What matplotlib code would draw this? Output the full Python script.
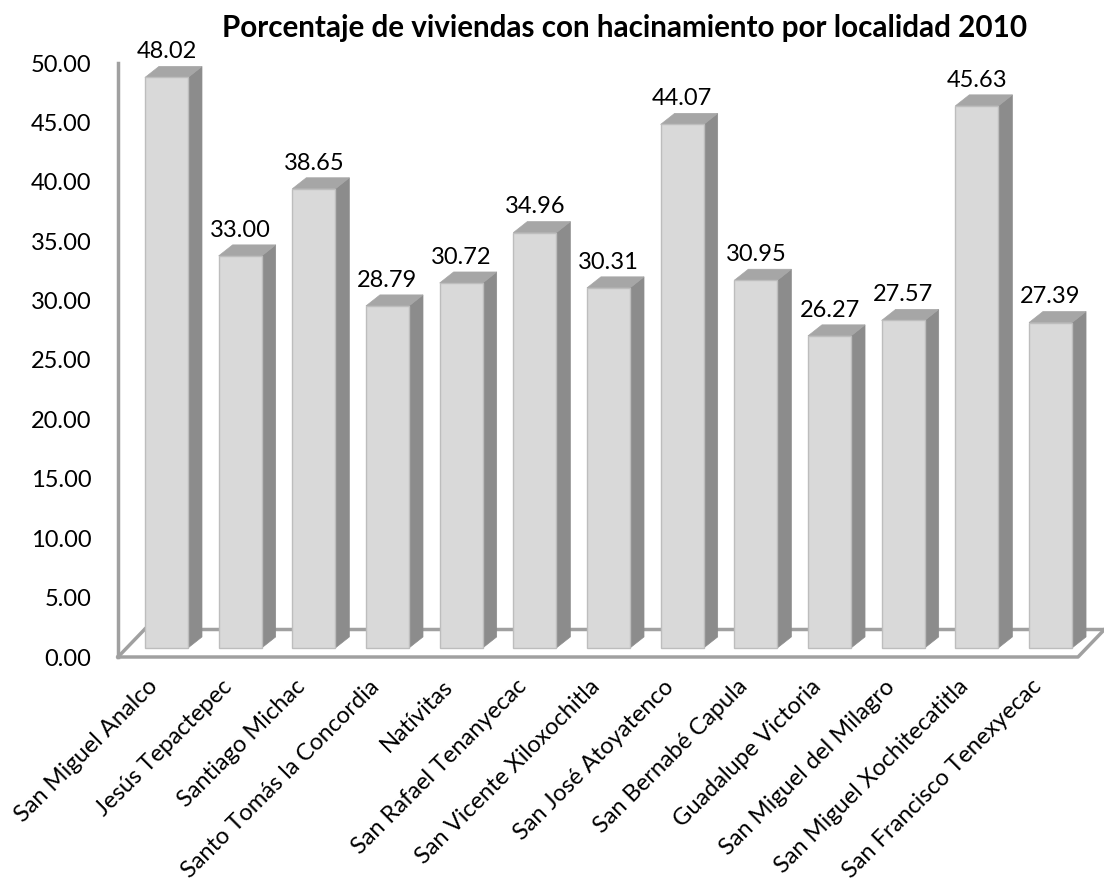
import matplotlib
matplotlib.use("Agg")
import matplotlib.pyplot as plt
from matplotlib.patches import Polygon
from matplotlib.transforms import ScaledTranslation
import numpy as np

# data
categories = ["San Miguel Analco", "Jesús Tepactepec", "Santiago Michac",
              "Santo Tomás la Concordia", "Natívitas", "San Rafael Tenanyecac",
              "San Vicente Xiloxochitla", "San José Atoyatenco", "San Bernabé Capula",
              "Guadalupe Victoria", "San Miguel del Milagro",
              "San Miguel Xochitecatitla", "San Francisco Tenexyecac"]
values = [48.02, 33.00, 38.65, 28.79, 30.72, 34.96, 30.31, 44.07, 30.95,
          26.27, 27.57, 45.63, 27.39]
yticks = [0, 5, 10, 15, 20, 25, 30, 35, 40, 45, 50]
title = "Porcentaje de viviendas con hacinamiento por localidad 2010"

plt.rcParams['font.family'] = ['Lato', 'DejaVu Sans']

W, H = 1104, 886
fig = plt.figure(figsize=(W / 100, H / 100), dpi=100)
# axes placed so that the floor front edge is the x axis
ax = fig.add_axes([118 / W, (H - 657) / H, (1078 - 118) / W, (657 - 63) / H])
xl, xr = -0.658, 12.373
ax.set_xlim(xl, xr)
ax.set_ylim(0, 50)
for s in ax.spines.values():
    s.set_visible(False)

# pseudo-3d geometry (data units)
width = 0.584
base = 0.76
dx, dy = 0.19, 0.93         # bar depth
fdx, fdy = 0.366, 2.36      # floor depth
gray = '#a0a0a0'

# floor and wall
ax.plot([xl + fdx, xr + fdx], [fdy, fdy], color=gray, lw=2.5, zorder=1, clip_on=False)
ax.plot([xl, xl + fdx], [0, fdy], color=gray, lw=2.5, zorder=1, clip_on=False)
ax.plot([xl, xr, xr + fdx], [0, 0, fdy], color=gray, lw=2.5, zorder=1, clip_on=False)
ax.plot([xl, xl], [0, 50], color=gray, lw=2.5, zorder=1, clip_on=False)

x = np.arange(len(categories))
ax.bar(x, values, width=width, bottom=base, color='#d9d9d9',
       edgecolor='#bdbdbd', linewidth=1, zorder=3, clip_on=False)
for xi, v in zip(x, values):
    x0, x1 = xi - width / 2, xi + width / 2
    top = base + v
    side = Polygon([(x1, base), (x1 + dx, base + dy), (x1 + dx, top + dy), (x1, top)],
                   closed=True, facecolor='#8c8c8c', edgecolor='#8c8c8c', lw=0.5,
                   zorder=2, clip_on=False)
    cap = Polygon([(x0, top), (x0 + dx, top + dy), (x1 + dx, top + dy), (x1, top)],
                  closed=True, facecolor='#a6a6a6', edgecolor='#a6a6a6', lw=0.5,
                  zorder=2, clip_on=False)
    ax.add_patch(side)
    ax.add_patch(cap)
    ax.text(xi, top + dy + 0.35, f"{v:.2f}", ha='center', va='bottom',
            fontsize=17, color='black', clip_on=False)

ax.set_yticks(yticks)
ax.set_yticklabels([f"{t:.2f}" for t in yticks], fontsize=17)
ax.tick_params(axis='y', length=0, pad=19)
ax.set_xticks(x)
ax.set_xticklabels(categories, rotation=45, ha='right', va='center',
                   rotation_mode='anchor', fontsize=17)
ax.tick_params(axis='x', length=0, pad=19)
shift = ScaledTranslation(-12 / 100, 0, fig.dpi_scale_trans)
for lbl in ax.get_xticklabels():
    lbl.set_transform(lbl.get_transform() + shift)

fig.text(625 / W, 1 - 28 / H, title, ha='center', va='center',
         fontsize=21.3, fontweight='bold')

fig.savefig("out.png", dpi=100, facecolor='white')
